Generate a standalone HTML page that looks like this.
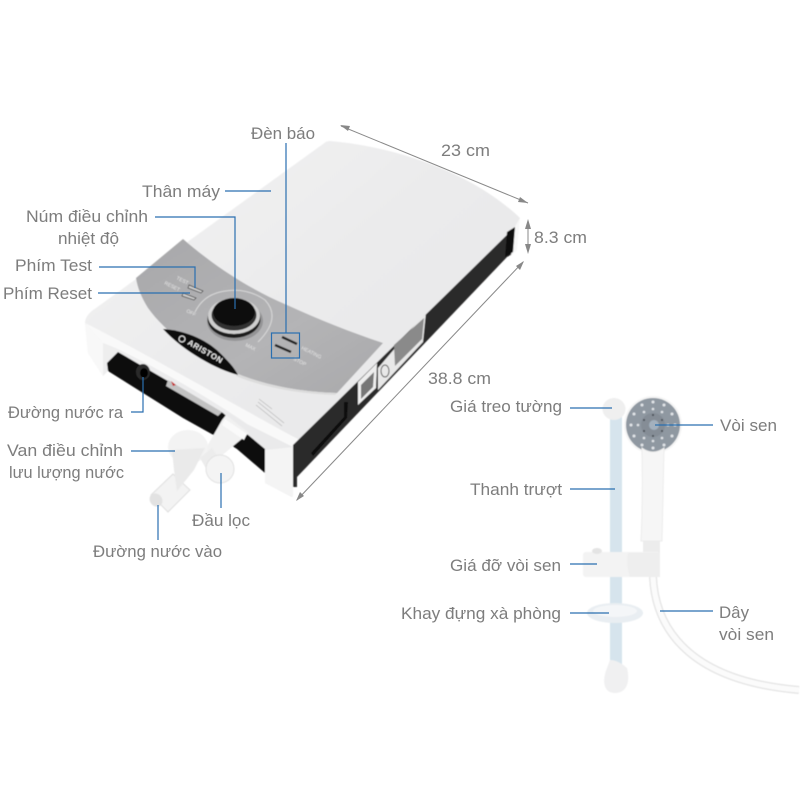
<!DOCTYPE html>
<html><head><meta charset="utf-8"><style>
html,body{margin:0;padding:0;background:#fff;width:800px;height:800px;overflow:hidden}
svg{display:block}
text{font-family:"Liberation Sans","Noto Sans CJK SC",sans-serif;font-size:16.5px;fill:#7d7d7d}
.m{font-size:5px;fill:#e6e6e6}
</style></head><body>
<svg width="800" height="800" viewBox="0 0 800 800" xmlns="http://www.w3.org/2000/svg">
<defs>
<linearGradient id="top" x1="0" y1="0" x2="1" y2="1"><stop offset="0" stop-color="#f4f4f4"/><stop offset=".45" stop-color="#ebebec"/><stop offset="1" stop-color="#e7e7e8"/></linearGradient>
<linearGradient id="panel" x1="0" y1="0" x2="1" y2="1"><stop offset="0" stop-color="#a8a8aa"/><stop offset=".6" stop-color="#b4b4b6"/><stop offset="1" stop-color="#a9a9ab"/></linearGradient>
<filter id="b"><feGaussianBlur stdDeviation=".5"/></filter>
</defs>
<g filter="url(#b)">
<!-- top surface and front -->
<path d="M330 141C390 146 470 170 520 218L517 226L293 447L292 497L265 483L265 450L247 434L223 414L118 353L108 371L103 376L88 353L85 323Q85 315 96 308L323 144Q326 141 330 141Z" fill="url(#top)"/>
<path d="M85 323L103 343L103 376L88 353Z" fill="#f8f8f8"/>
<path d="M103 343C130 352 210 398 247 424L293 447L300 440C270 425 140 350 85 323Z" fill="#f9f9f9"/>
<path d="M265 450L293 447L293 497L265 483Z" fill="#f4f4f4"/>
<!-- right cap -->
<path d="M520 218L517 250L510 257L514 228Z" fill="#f7f7f7"/>
<!-- dark side -->
<path d="M293 445L515 227L511 255L507 257L297 477L297 487L293 487Z" fill="#2b2a2a"/>
<path d="M507 232L515 227L513 252L505 257Z" fill="#0c0c0c"/>
<path d="M344 402L348 402L347 418L313 456L311 453L344 417Z" fill="#0a0a0a"/>
<!-- side labels -->
<path d="M358 382L377 363L376 388L358 405Z" fill="#eee"/>
<path d="M361 385L374 372L373 387L361 399Z" fill="#777"/>
<path d="M378 368L426 312L423 342L378 390Z" fill="#e8e8e8"/>
<path d="M394 345L424 318L422 339L395 366Z" fill="#8a8a8a"/>
<ellipse cx="385" cy="371" rx="4" ry="6" fill="none" stroke="#555" stroke-width="1"/>
<!-- front opening -->
<path d="M107 363L118 352L223 413L247 434L265 449L265 473L237 449L226 442L183 418L108 371Z" fill="#0b0b0b"/>
<path d="M168 380L222 412L218 416L166 386Z" fill="#c2c2c2"/>
<path d="M171 381L176 385L173 386Z" fill="#c52a2a"/>
<ellipse cx="143" cy="372" rx="7" ry="8" fill="#2c2c2c"/>
<ellipse cx="144" cy="373" rx="4" ry="5" fill="#000"/>
<!-- sticker -->
<g stroke="#aaa" stroke-width=".7" opacity=".8">
<path d="M258 402L284 423"/><path d="M256 405L282 426"/><path d="M259 399L272 409"/>
</g>
<!-- grey panel -->
<path d="M183 239C205 258 240 285 287 305C320 320 350 332 383 343L337 393C300 392 265 385 238 374C200 358 165 332 148 308Q138 292 136 278Z" fill="url(#panel)"/>
<path d="M337 393C300 392 265 385 238 374L236 376C265 388 300 394 335 395Z" fill="#dcdcdc"/>
<path d="M163 329C182 330 205 338 220 353C228 361 234 367 238 375C218 370 184 352 163 329Z" fill="#111"/>
<!-- knob -->
<path d="M195 312Q203 296 220 292Q245 286 265 300Q282 318 258 342" fill="none" stroke="#d9d9d9" stroke-width="1"/>
<ellipse cx="235" cy="321" rx="28" ry="20" fill="#949496"/>
<ellipse cx="234" cy="319" rx="26.500" ry="19" fill="#1a1a1a"/>
<ellipse cx="234" cy="316" rx="26" ry="18" fill="#cfcfcf"/>
<ellipse cx="234" cy="315" rx="22.500" ry="15.500" fill="#333"/>
<ellipse cx="234" cy="312" rx="21" ry="14" fill="#0c0c0c"/>
<!-- buttons -->
<path d="M189 285L203 291L201 293L188 288Z" fill="#ccc" stroke="#333" stroke-width=".7"/>
<path d="M183 293L196 298L194 300L182 296Z" fill="#ccc" stroke="#333" stroke-width=".7"/>
<path d="M282 337L297 344" stroke="#222" stroke-width="2.500"/>
<path d="M275 345L291 352" stroke="#222" stroke-width="2.500"/>
<text transform="translate(187,344) rotate(30)" style="font-size:8px;fill:#e8e8e8;font-weight:bold;letter-spacing:.5px">ARISTON</text>
<circle cx="182" cy="339" r="3" fill="none" stroke="#e8e8e8" stroke-width="1"/>
<text class="m" transform="translate(176,279) rotate(27)">TEST</text>
<text class="m" transform="translate(164,284) rotate(27)">RESET</text>
<text class="m" transform="translate(186,312) rotate(27)">OFF</text>
<text class="m" transform="translate(245,346) rotate(27)">MAX</text>
<text class="m" transform="translate(301,349) rotate(27)">HEATING</text>
<text class="m" transform="translate(293,360) rotate(27)">STOP</text>
<!-- valve -->
<path d="M222 420L226 415L249 433L232 447L214 462L205 450Z" fill="#f1f1f1"/>
<path d="M225 419L247 434L244 440L222 425Z" fill="#fafafa"/>
<path d="M151 495L173 474L190 490L168 512Z" fill="#f3f3f3" stroke="#dfdfdf"/>
<ellipse cx="156" cy="500" rx="6" ry="7" fill="#e2e2e2" transform="rotate(-40 156 500)"/>
<ellipse cx="188" cy="447" rx="20" ry="17" fill="#f3f3f3"/>
<path d="M172 450L205 448L194 470L177 491L174 470Z" fill="#eaeaea"/>
<path d="M200 458L212 448L220 460L208 472Z" fill="#ececec"/>
<ellipse cx="220" cy="469" rx="14" ry="14" fill="#f4f4f4" stroke="#e2e2e2"/>
</g>
<!-- shower -->
<g filter="url(#b)">
<rect x="610" y="412" width="12" height="260" fill="#d6e4ed"/>
<path d="M607 668C602 680 603 693 615 693C628 693 630 680 627 668Q618 660 610 660Z" fill="#f0f0f1"/>
<ellipse cx="614" cy="409" rx="11.500" ry="11" fill="#efefef"/>
<path d="M653 577C655 620 680 680 799 690" fill="none" stroke="#e3e3e3" stroke-width="8"/>
<path d="M653 577C655 620 680 680 799 690" fill="none" stroke="#fbfbfb" stroke-width="5.500"/>
<circle cx="653" cy="425" r="29" fill="#f5f5f5"/>
<circle cx="653" cy="425" r="27" fill="#8f98a1"/>
<circle cx="653" cy="425" r="12" fill="#858d96"/>
<circle cx="654" cy="425" r="5" fill="#a3b0bd"/>
<g fill="#e2e5e8">
<circle cx="653" cy="402" r="1.500"/><circle cx="664" cy="405" r="1.500"/><circle cx="672" cy="414" r="1.500"/><circle cx="675" cy="425" r="1.500"/><circle cx="672" cy="436" r="1.500"/><circle cx="664" cy="445" r="1.500"/><circle cx="653" cy="448" r="1.500"/><circle cx="642" cy="445" r="1.500"/><circle cx="634" cy="436" r="1.500"/><circle cx="631" cy="425" r="1.500"/><circle cx="634" cy="414" r="1.500"/><circle cx="642" cy="405" r="1.500"/>
<circle cx="653" cy="409" r="1.300"/><circle cx="662" cy="412" r="1.300"/><circle cx="668" cy="425" r="1.300"/><circle cx="662" cy="438" r="1.300"/><circle cx="653" cy="441" r="1.300"/><circle cx="644" cy="438" r="1.300"/><circle cx="638" cy="425" r="1.300"/><circle cx="644" cy="412" r="1.300"/>
</g>
<g fill="#3f454c"><circle cx="653" cy="415" r="1"/><circle cx="662" cy="420" r="1"/><circle cx="662" cy="431" r="1"/><circle cx="653" cy="436" r="1"/><circle cx="644" cy="431" r="1"/><circle cx="644" cy="420" r="1"/></g>
<path d="M642 448Q653 456 664 448Q663 500 662 541L641 541Q643 500 642 448Z" fill="#f6f6f6" stroke="#ececec"/>
<rect x="643" y="541" width="17" height="14" fill="#ececec"/>
<rect x="583" y="552" width="77" height="25" rx="3" fill="#f3f3f3"/>
<path d="M628 553L660 553L660 577L630 577Q626 565 628 553Z" fill="#eeeeee"/>
<ellipse cx="597" cy="551" rx="5" ry="3" fill="#e4e4e4"/>
<ellipse cx="615" cy="613" rx="28" ry="10" fill="#e9eef2"/>
<ellipse cx="615" cy="611" rx="22" ry="6" fill="#f4f6f8"/>
</g>
<!-- dimension arrows -->
<g stroke="#888" stroke-width="1" fill="none">
<line x1="341" y1="126" x2="528" y2="203"/>
<line x1="528" y1="221" x2="528" y2="252"/>
<line x1="523" y1="262" x2="297" y2="500"/>
</g>
<g fill="#888">
<path d="M340 125L350 126L348 131Z"/><path d="M528 203L518 202L520 197Z"/>
<path d="M528 219L531 229L525 229Z"/><path d="M528 254L525 244L531 244Z"/>
<path d="M524 261L520 270L516 266Z"/><path d="M296 501L300 492L304 496Z"/>
</g>
<!-- leader lines -->
<g stroke="#2a6fb0" stroke-width="1.200" fill="none">
<path d="M286 143V333"/><rect x="271.500" y="333" width="28" height="25"/>
<path d="M225 191H271"/><path d="M155 217H235V309"/>
<path d="M99 267H195V288"/><path d="M98 293H190"/>
<path d="M131 412H143V377"/><path d="M131 451H175"/>
<path d="M221 473V508"/><path d="M158 505V540"/>
<path d="M570 408H612"/><path d="M655 425H713"/><path d="M570 489H615"/>
<path d="M570 564H597"/><path d="M570 613H609"/><path d="M660 611H713"/>
</g>
<!-- labels -->
<text x="251" y="139" textLength="64" lengthAdjust="spacingAndGlyphs">Đèn báo</text>
<text x="441" y="156" textLength="49" lengthAdjust="spacingAndGlyphs">23 cm</text>
<text x="142" y="197" textLength="78" lengthAdjust="spacingAndGlyphs">Thân máy</text>
<text x="26" y="222" textLength="122" lengthAdjust="spacingAndGlyphs">Núm điều chỉnh</text>
<text x="58" y="244" textLength="61" lengthAdjust="spacingAndGlyphs">nhiệt độ</text>
<text x="15" y="271" textLength="77" lengthAdjust="spacingAndGlyphs">Phím Test</text>
<text x="3" y="299" textLength="89" lengthAdjust="spacingAndGlyphs">Phím Reset</text>
<text x="534" y="243" textLength="53" lengthAdjust="spacingAndGlyphs">8.3 cm</text>
<text x="428" y="384" textLength="63" lengthAdjust="spacingAndGlyphs">38.8 cm</text>
<text x="8" y="418" textLength="115" lengthAdjust="spacingAndGlyphs">Đường nước ra</text>
<text x="7" y="456" textLength="116" lengthAdjust="spacingAndGlyphs">Van điều chỉnh</text>
<text x="9" y="478" textLength="115" lengthAdjust="spacingAndGlyphs">lưu lượng nước</text>
<text x="192" y="526" textLength="58" lengthAdjust="spacingAndGlyphs">Đầu lọc</text>
<text x="93" y="557" textLength="129" lengthAdjust="spacingAndGlyphs">Đường nước vào</text>
<text x="450" y="412" textLength="112" lengthAdjust="spacingAndGlyphs">Giá treo tường</text>
<text x="720" y="431" textLength="57" lengthAdjust="spacingAndGlyphs">Vòi sen</text>
<text x="470" y="495" textLength="92" lengthAdjust="spacingAndGlyphs">Thanh trượt</text>
<text x="450" y="571" textLength="111" lengthAdjust="spacingAndGlyphs">Giá đỡ vòi sen</text>
<text x="401" y="619" textLength="160" lengthAdjust="spacingAndGlyphs">Khay đựng xà phòng</text>
<text x="719" y="618" textLength="30" lengthAdjust="spacingAndGlyphs">Dây</text>
<text x="719" y="640" textLength="55" lengthAdjust="spacingAndGlyphs">vòi sen</text>
</svg>
</body></html>
